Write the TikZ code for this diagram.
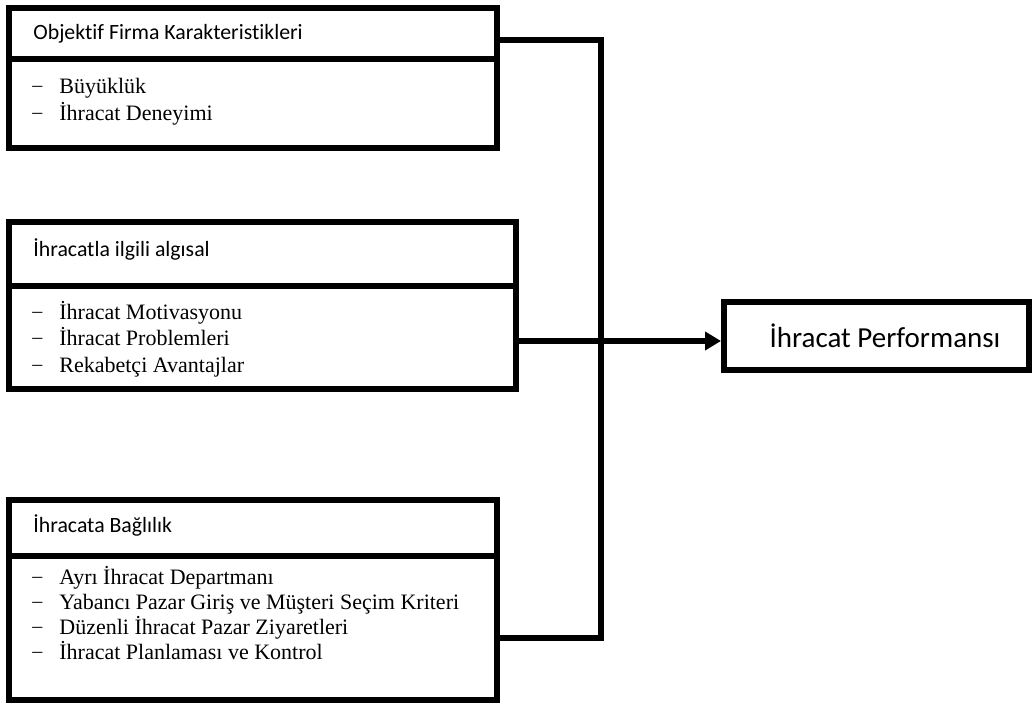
\documentclass[tikz,border=0pt]{standalone}
\usepackage{fontspec}
\setmainfont{Liberation Serif}
\newfontfamily\hdrfont[Ligatures=NoCommon]{Carlito}
\usetikzlibrary{arrows.meta}
\begin{document}
\begin{tikzpicture}[x=0.5pt,y=-0.5pt,
  box/.style={draw, rectangle, line width=3pt, inner sep=0pt, outer sep=0pt, anchor=north west},
  hdr/.style={anchor=base west, inner sep=0pt, font=\hdrfont\fontsize{10.9}{13}\selectfont},
  item/.style={anchor=base west, inner sep=0pt, font=\fontsize{11}{13}\selectfont},
  dashmark/.style={anchor=base west, inner sep=0pt, font=\fontsize{10}{12}\selectfont},
  link/.style={draw, line width=3pt, line join=miter}]
\useasboundingbox (0,0) rectangle (1035,704);

% first group: objective firm characteristics
\node[box, minimum width=244pt, minimum height=25.5pt] (tophead) at (9,8) {};
\node[box, minimum width=244pt, minimum height=44.5pt] (topbody) at (9,59) {};
\node[hdr] (t0) at (33,40) {Objektif Firma Karakteristikleri};
\node[dashmark] (td1) at (32,92) {–};
\node[item] (t1) at (59,94) {Büyüklük};
\node[dashmark] (td2) at (32,119) {–};
\node[item] (t2) at (59,121) {İhracat Deneyimi};

% second group: perceptual factors
\node[box, minimum width=253.5pt, minimum height=32pt] (midhead) at (9,222) {};
\node[box, minimum width=253.5pt, minimum height=51.5pt] (midbody) at (9,286) {};
\node[hdr] (m0) at (33,257) {İhracatla ilgili algısal};
\node[dashmark] (md1) at (32,318) {–};
\node[item] (m1) at (59,320) {İhracat Motivasyonu};
\node[dashmark] (md2) at (32,344) {–};
\node[item] (m2) at (59,346) {İhracat Problemleri};
\node[dashmark] (md3) at (32,371) {–};
\node[item] (m3) at (59,373) {Rekabetçi Avantajlar};

% third group: export commitment
\node[box, minimum width=244pt, minimum height=28pt] (bothead) at (9,500) {};
\node[box, minimum width=244pt, minimum height=72pt] (botbody) at (9,556) {};
\node[hdr] (b0) at (33,533) {İhracata Bağlılık};
\node[dashmark] (bd1) at (32,583) {–};
\node[item] (b1) at (59,585) {Ayrı İhracat Departmanı};
\node[dashmark] (bd2) at (32,608) {–};
\node[item] (b2) at (59,610) {Yabancı Pazar Giriş ve Müşteri Seçim Kriteri};
\node[dashmark] (bd3) at (32,633) {–};
\node[item] (b3) at (59,635) {Düzenli İhracat Pazar Ziyaretleri};
\node[dashmark] (bd4) at (32,658) {–};
\node[item] (b4) at (59,660) {İhracat Planlaması ve Kontrol};

% outcome
\node[box, minimum width=152.5pt, minimum height=34pt] (res) at (724,302) {};
\node[anchor=center, inner sep=0pt, font=\hdrfont\fontsize{14.5}{17}\selectfont] (restext) at (885,336) {İhracat Performansı};

% connectors
\coordinate (jt) at (601,40);
\coordinate (jb) at (601,638);
\coordinate (arr) at (601,341);
\path[link] (tophead.east |- jt) -- (jt) -- (jb) -- (botbody.east |- jb);
\path[link, -{Triangle[length=8pt,width=9pt]}] (midbody.east |- arr) -- ([xshift=-1.5pt]res.west |- arr);
\end{tikzpicture}
\end{document}
